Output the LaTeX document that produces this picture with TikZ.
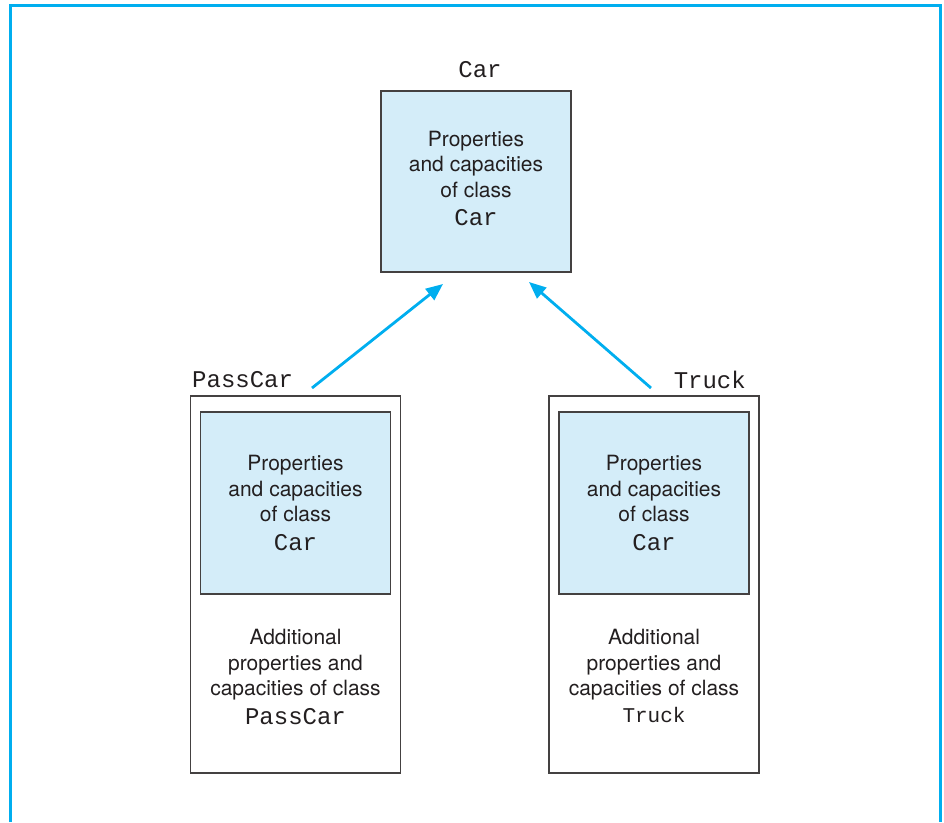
\documentclass[tikz,border=0pt]{standalone}
\usepackage{fontspec}
\setmainfont{TeX Gyre Heros}
\setmonofont{Liberation Mono}
\usetikzlibrary{arrows.meta}
\definecolor{frameblue}{RGB}{0,174,239}
\definecolor{fillblue}{RGB}{212,237,249}
\definecolor{ink}{RGB}{35,31,32}
\tikzset{
  cls/.style={draw=ink!85, line width=1.3pt, fill=fillblue, minimum width=190pt, minimum height=182pt, inner sep=0pt, align=center, text=ink, font=\fontsize{21}{25.5}\selectfont},
  outer/.style={draw=ink!85, line width=1.3pt, fill=white, minimum width=210pt, minimum height=377pt, inner sep=0pt},
  txt/.style={align=center, text=ink, font=\fontsize{21}{25.5}\selectfont, inner sep=0pt},
  ttl/.style={text=ink, font=\ttfamily\fontsize{24}{28}\selectfont, inner sep=0pt},
  inh/.style={draw=frameblue, line width=2.8pt, -{Triangle[length=17pt,width=14pt]}}
}
\begin{document}
\begin{tikzpicture}[x=1pt,y=-1pt]
\useasboundingbox (0,0) rectangle (944,822);
\draw[frameblue, line width=3pt] (10,822) -- (10,5) -- (940,5) -- (940,822);
% Car
\node[cls, minimum height=181pt] (car) at (476,181.5) {};
\node[txt] (cartxt) at (476,178.5) {Properties\\and capacities\\of class\\[3pt]\ttfamily\fontsize{24}{28}\selectfont Car};
\node[ttl] (carlbl) at (480,70) {Car};
% PassCar
\node[outer] (pc) at (295.5,584.5) {};
\node[cls] (pcin) at (295.5,503) {Properties\\and capacities\\of class\\[3pt]\ttfamily\fontsize{24}{28}\selectfont Car};
\node[txt] (pcadd) at (295.5,677) {Additional\\properties and\\capacities of class\\[3pt]\ttfamily\fontsize{24}{28}\selectfont PassCar};
\node[ttl, anchor=west] (pclbl) at (192,380) {PassCar};
% Truck
\node[outer] (tr) at (654,584.5) {};
\node[cls] (trin) at (654,503) {Properties\\and capacities\\of class\\[3pt]\ttfamily\fontsize{24}{28}\selectfont Car};
\node[txt] (tradd) at (654,676) {Additional\\properties and\\capacities of class\\[1pt]\ttfamily\fontsize{21}{25}\selectfont Truck};
\node[ttl, anchor=east] (trlbl) at (746,380) {Truck};
% arrows
\coordinate (a1s) at (312,388);
\coordinate (a1e) at (443,284);
\coordinate (a2s) at (651,388);
\coordinate (a2e) at (529,282);
\draw[inh] (a1s) -- (a1e);
\draw[inh] (a2s) -- (a2e);
\end{tikzpicture}
\end{document}
